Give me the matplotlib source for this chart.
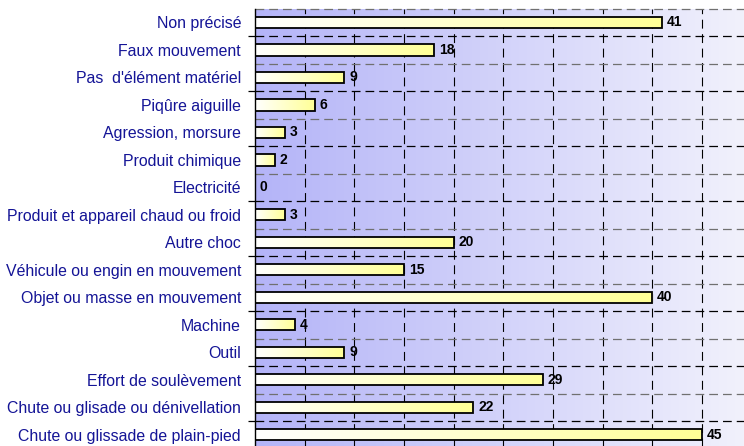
import matplotlib
matplotlib.use("Agg")
import matplotlib.pyplot as plt
import numpy as np
from matplotlib.patches import Rectangle

# categories from top to bottom, as in the picture
categories = [
    "Non précisé",
    "Faux mouvement",
    "Pas  d'élément matériel",
    "Piqûre aiguille",
    "Agression, morsure",
    "Produit chimique",
    "Electricité",
    "Produit et appareil chaud ou froid",
    "Autre choc",
    "Véhicule ou engin en mouvement",
    "Objet ou masse en mouvement",
    "Machine",
    "Outil",
    "Effort de soulèvement",
    "Chute ou glisade ou dénivellation",
    "Chute ou glissade de plain-pied",
]
values = [41, 18, 9, 6, 3, 2, 0, 3, 20, 15, 40, 4, 9, 29, 22, 45]

plt.rcParams['font.family'] = ['Liberation Sans', 'DejaVu Sans']

fig = plt.figure(figsize=(7.44, 4.46), dpi=100)
# plot area runs off the right and bottom edges, as in the reference crop
ax = fig.add_axes([255 / 744, 1 - 448.5 / 446, 50 * 9.93 / 744, 439.8 / 446])

n = len(categories)
ax.set_xlim(0, 50)
ax.set_ylim(n - 0.5, -0.5)

# background gradient, blue on the left to pale on the right
bg = np.linspace(0, 1, 256)
c0 = np.array([180, 180, 248]) / 255
c1 = np.array([242, 242, 252]) / 255
bg_img = (c0[None, None, :] * (1 - bg[None, :, None]) + c1[None, None, :] * bg[None, :, None])
ax.imshow(bg_img, extent=[0, 50, n - 0.5, -0.5], aspect='auto', zorder=0)

# grid lines
for x in range(5, 51, 5):
    ax.axvline(x, color='black', lw=0.8, ls=(0, (8, 5)), zorder=1)
for k in range(n + 1):
    y = k - 0.5
    col = 'black' if k % 2 == 1 else '#707070'
    ax.axhline(y, color=col, lw=0.9, ls=(0, (7, 4)), zorder=1, clip_on=False)

# bars with white -> yellow gradient
bar_h = 0.41
grad = np.linspace(0, 1, 256)
w = np.array([1.0, 1.0, 1.0])
yel = np.array([255, 255, 150]) / 255
bar_img = w[None, None, :] * (1 - grad[None, :, None]) + yel[None, None, :] * grad[None, :, None]
for i, v in enumerate(values):
    if v > 0:
        rect = Rectangle((0, i - bar_h / 2), v, bar_h, facecolor='none',
                         edgecolor='black', lw=1.3, zorder=3)
        ax.add_patch(rect)
        im = ax.imshow(bar_img, extent=[0, v, i + bar_h / 2, i - bar_h / 2],
                       aspect='auto', zorder=2)
        im.set_clip_path(rect)
    ax.text(v + 0.5, i, str(v), va='center', ha='left', fontsize=10,
            fontweight='bold', color='black', zorder=4)

ax.set_xlim(0, 50)
ax.set_ylim(n - 0.5, -0.5)

ax.set_yticks(range(n))
ax.set_yticklabels(categories, fontsize=11.4, color='#141496')
ax.tick_params(axis='y', length=0, pad=10)
ax.set_yticks([k - 0.5 for k in range(1, n, 2)], minor=True)
ax.tick_params(axis='y', which='minor', length=5, width=0.9, color='black')
ax.set_xticks([])

for s in ['top', 'right', 'bottom']:
    ax.spines[s].set_visible(False)
ax.spines['left'].set_linewidth(1.0)
ax.spines['left'].set_zorder(5)

fig.savefig("out.png", dpi=100)
